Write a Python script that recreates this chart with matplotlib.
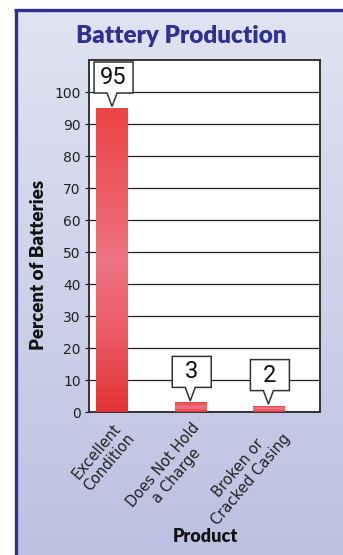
import numpy as np
import matplotlib
matplotlib.use("Agg")
import matplotlib.pyplot as plt
import matplotlib.transforms as mtransforms
from matplotlib.patches import Polygon, Rectangle
from matplotlib.colors import LinearSegmentedColormap

# Data
categories = ["Excellent\nCondition", "Does Not Hold\na Charge", "Broken or\nCracked Casing"]
percents = [95, 3, 2]
yticks = list(range(0, 101, 10))

title = "Battery Production"
ylabel = "Percent of Batteries"
xlabel = "Product"

NAVY = "#2e3192"
W, H, DPI = 343, 555, 100
HEAD_FONT = ["Lato", "DejaVu Sans"]

fig = plt.figure(figsize=(W / DPI, H / DPI), dpi=DPI)
fig.patch.set_facecolor("white")

# Panel background with vertical lavender gradient and navy frame
bg = fig.add_axes([0, 0, 1, 1], zorder=0)
bg.set_xlim(0, W)
bg.set_ylim(H, 0)
bg.axis("off")
grad = np.linspace(0, 1, 256).reshape(-1, 1)
bg_cmap = LinearSegmentedColormap.from_list("panel", ["#e0e3f1", "#bdc1e1"])
bg.imshow(grad, cmap=bg_cmap, aspect="auto", extent=(15, W, H, 9), zorder=0)
bg.plot([15.5, 15.5], [H, 9.5], color=NAVY, lw=2.4, solid_capstyle="butt", zorder=2)
bg.plot([14.3, W], [9.5, 9.5], color=NAVY, lw=2.4, solid_capstyle="butt", zorder=2)

# Main chart axes
ax = fig.add_axes([89 / W, 1 - 412 / H, 231 / W, 352 / H], zorder=1)
ax.set_facecolor("white")
x = np.arange(len(categories))
ax.set_xlim(-0.295, 2.66)
ax.set_ylim(0, 110)

bar_w = 0.4
bars = ax.bar(x, percents, width=bar_w, color="none", zorder=3)

# Red gradient fill for each bar
bar_cmap = LinearSegmentedColormap.from_list(
    "bar", ["#e23234", "#ec5a63", "#ee7482", "#ec5a5f", "#ee4446"])
for b in bars:
    x0, y0 = b.get_x(), b.get_y()
    w, h = b.get_width(), b.get_height()
    top = h if h < 10 else max(percents)
    im = ax.imshow(grad, cmap=bar_cmap, aspect="auto", origin="lower",
                   extent=(x0, x0 + w, 0, top), zorder=3)
    clip = Rectangle((x0, y0), w, h, transform=ax.transData)
    im.set_clip_path(clip)

ax.set_yticks(yticks)
ax.set_yticklabels([str(t) for t in yticks], fontsize=10, color="#222222")
ax.grid(axis="y", color="#222222", lw=0.9, zorder=1)
ax.set_axisbelow(True)
ax.tick_params(axis="y", length=3, width=0.9, color="#222222", pad=3)
ax.tick_params(axis="x", length=0, pad=2)
for s in ax.spines.values():
    s.set_color("#333333")
    s.set_linewidth(1.4)

ax.set_xticks(x)
ax.set_xticklabels(categories, rotation=50, ha="right", va="top",
                   rotation_mode="anchor", multialignment="center",
                   fontsize=10.5, color="#222222", linespacing=1.15)
# shift tick labels so their right end sits near each bar
offset = mtransforms.ScaledTranslation(1 / DPI, -5 / DPI, fig.dpi_scale_trans)
for lbl in ax.get_xticklabels():
    lbl.set_transform(lbl.get_transform() + offset)

# Callout boxes with a pointer to each bar top (pixel geometry)
px = mtransforms.Affine2D()
for xi, v in zip(x, percents):
    tip = mtransforms.ScaledTranslation(xi, v, ax.transData)
    gap, bh, half = 15, 31, 19.5
    cx = 1.5
    verts = [(0, 1.5), (-5, gap), (cx - half, gap), (cx - half, gap + bh),
             (cx + half, gap + bh), (cx + half, gap), (5, gap)]
    poly = Polygon(verts, closed=True, facecolor="white", edgecolor="#333333",
                   lw=1.1, transform=px + tip, zorder=5, clip_on=False)
    ax.add_patch(poly)
    ax.text(cx, gap + bh / 2, str(v), transform=px + tip,
            ha="center", va="center", fontsize=17,
            family=["Roboto", "DejaVu Sans"], color="#111111", zorder=6)

fig.text(181 / W, 1 - 36 / H, title, ha="center", va="center",
         fontsize=17.5, fontweight="heavy", family=HEAD_FONT, color=NAVY)
fig.text(39 / W, 1 - 265 / H, ylabel, rotation=90, ha="center", va="center",
         fontsize=13.5, fontweight="heavy", family=HEAD_FONT, color="#111111")
fig.text(205 / W, 1 - 537 / H, xlabel, ha="center", va="center",
         fontsize=13, fontweight="heavy", family=HEAD_FONT, color="#111111")

fig.savefig("out.png", dpi=DPI, facecolor=fig.get_facecolor())
